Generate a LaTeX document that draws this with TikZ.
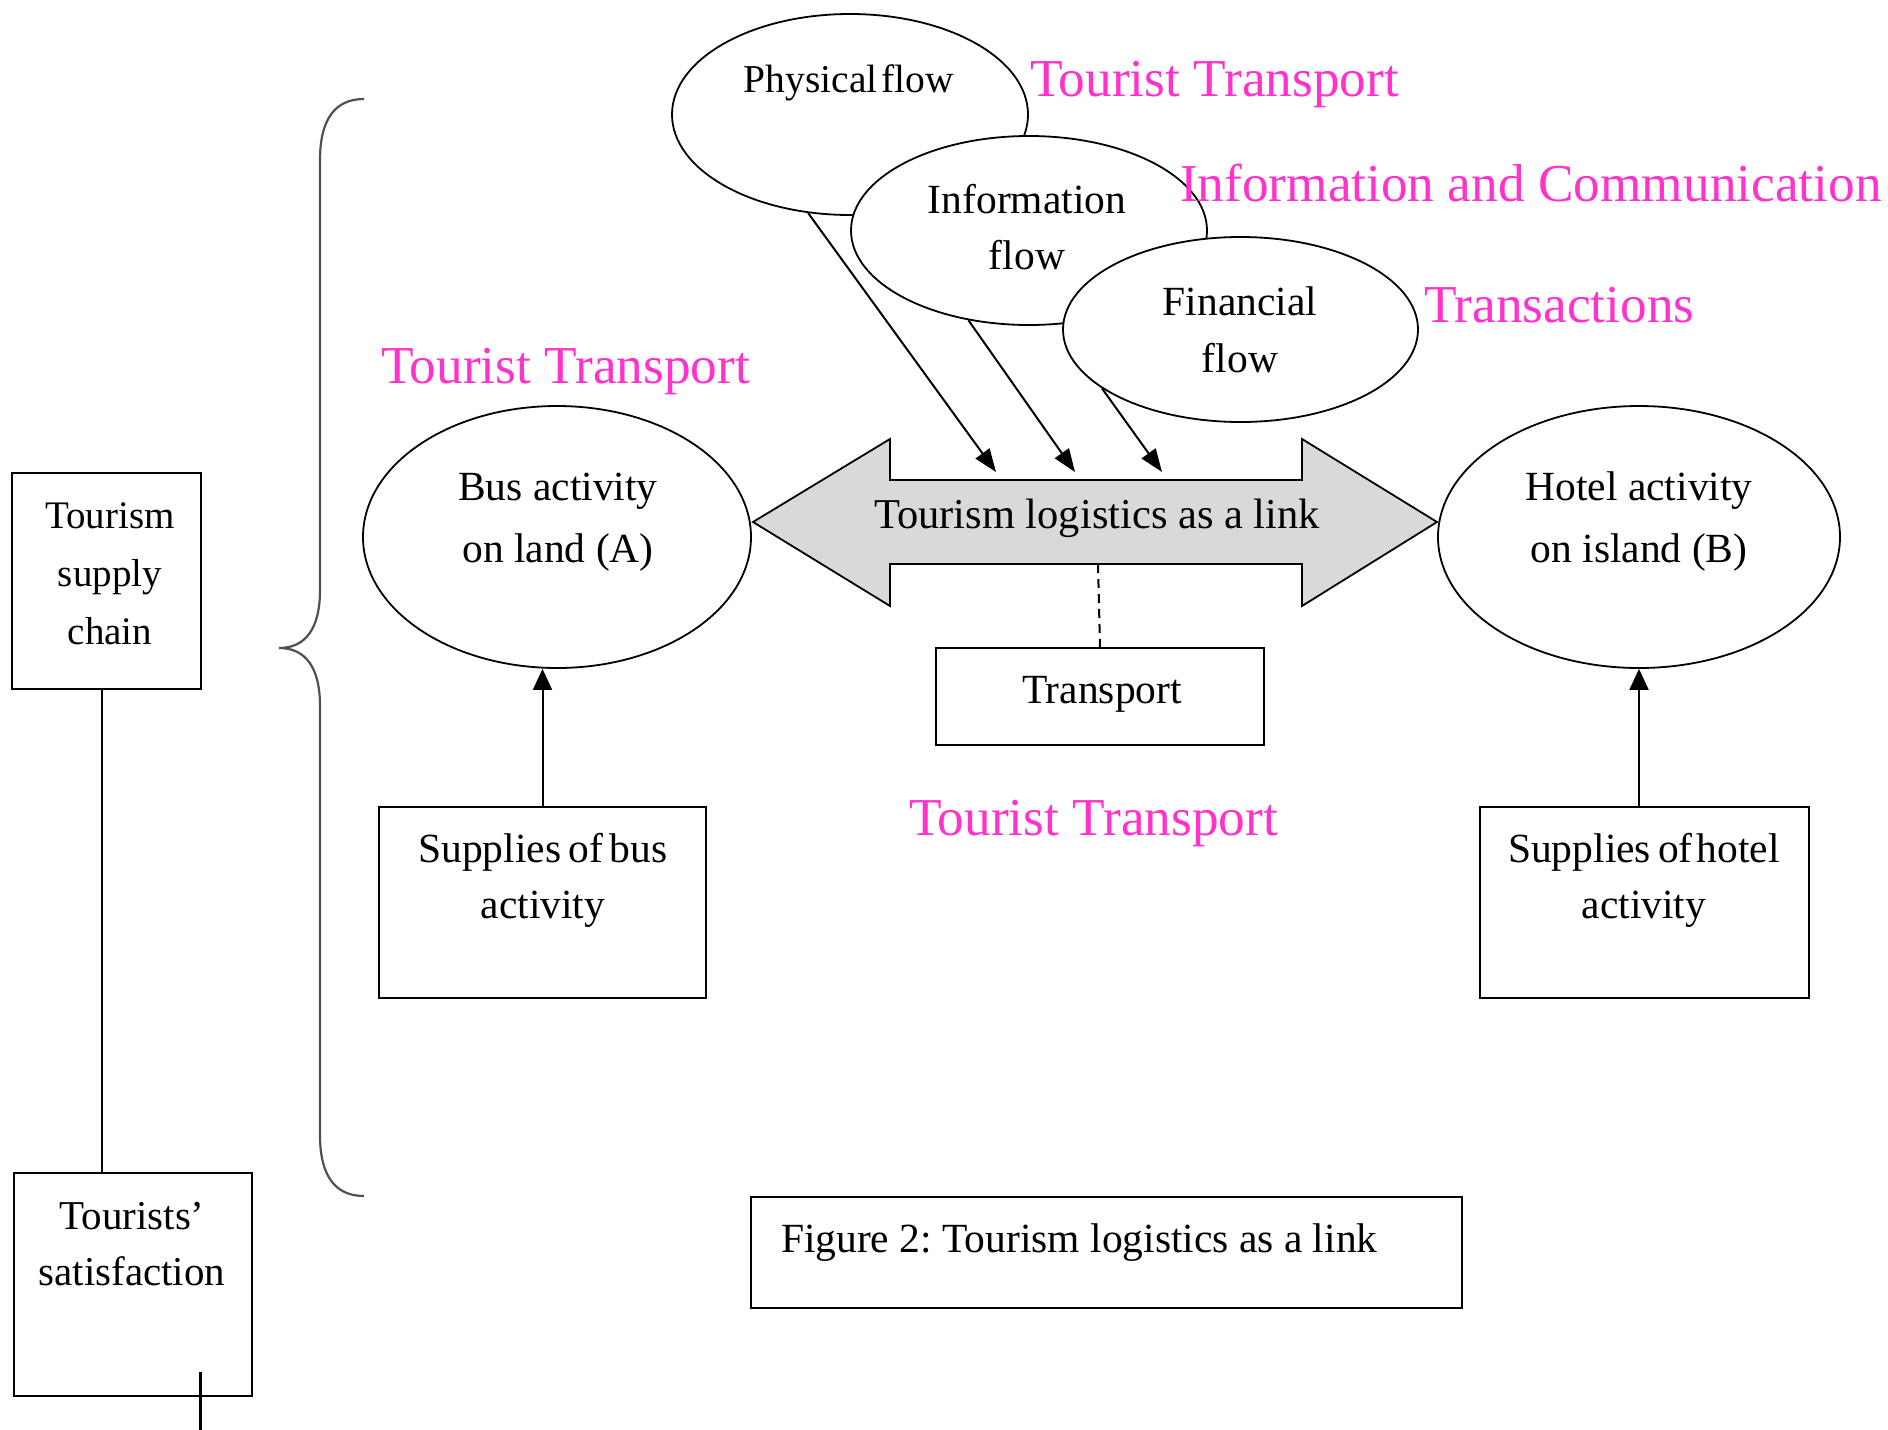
\documentclass[tikz,border=0pt]{standalone}
\usepackage{fontspec}
\setmainfont{Liberation Serif}
\usetikzlibrary{shapes.geometric,arrows.meta}
\definecolor{pinkc}{RGB}{255,51,204}
\definecolor{arrowgray}{RGB}{217,217,217}
\definecolor{bracegray}{RGB}{80,80,80}
\frenchspacing
\begin{document}
\begin{tikzpicture}[x=1pt,y=-1pt,
  line width=2pt,
  ell/.style={ellipse, draw, fill=white, inner sep=0pt, line width=1.8pt},
  box/.style={draw, rectangle, inner sep=0pt, line width=2pt},
  txt/.style={align=center, font=\fontsize{41.5}{62}\selectfont, anchor=base, inner sep=0pt},
  pinktxt/.style={text=pinkc, font=\fontsize{53.3}{60}\selectfont, anchor=base west, inner sep=0pt},
  arr/.style={-{Triangle[length=23pt,width=17pt]}, line width=2pt},
]
\useasboundingbox (0,0) rectangle (1888,1430);
\fill[white] (0,0) rectangle (1888,1430);

% left boxes (base anchor of multi-line text = last line baseline)
\node[box, minimum width=189, minimum height=216] (tsc) at (106.5,581) {};
\node[txt, font=\fontsize{39}{58}\selectfont] (tsctxt) at (110,644) {Tourism\\supply\\chain};
\node[box, minimum width=238, minimum height=223] (sat) at (133,1284.5) {};
\node[txt, font=\fontsize{41}{56}\selectfont] (sattxt) at (132,1285) {Tourists’\\satisfaction};
\path (tsc.south) ++(-5,0) coordinate (tscb);
\draw (tscb) -- (tscb |- sat.north);
\coordinate (tickbot) at (200,1430);
\coordinate (ticktop) at (200,1372);
\draw[line width=3pt] (tickbot) -- (ticktop);

% brace
\draw[bracegray, line width=2.2pt] (364,99) .. controls (336,99) and (320,118) .. (320,160)
  -- (320,590) .. controls (320,628) and (306,648) .. (279,648)
  .. controls (306,648) and (320,668) .. (320,706)
  -- (320,1135) .. controls (320,1177) and (336,1196) .. (364,1196);

% flow ellipses
\node[ell, minimum width=356, minimum height=201] (phys) at (850,114.5) {};
\node[txt, font=\fontsize{39.5}{62}\selectfont] (physt) at (849,92) {Physical\hspace{0.1em}flow};
\node[ell, minimum width=356, minimum height=189] (info) at (1029,230.5) {};
\node[txt, font=\fontsize{41.5}{56}\selectfont] (infot) at (1027,269) {Information\\flow};
\node[ell, minimum width=355, minimum height=185] (fin) at (1240.5,329.5) {};
\node[txt, font=\fontsize{41.5}{57}\selectfont] (fint) at (1240,372) {Financial\\flow};

% activity ellipses
\node[ell, minimum width=388, minimum height=262] (bus) at (557,537) {};
\node[txt] (bust) at (558,562) {Bus activity\\on land (A)};
\node[ell, minimum width=402, minimum height=262] (hotel) at (1639,537) {};
\node[txt] (hotelt) at (1639,562) {Hotel activity\\on island (B)};

% double arrow
\draw[fill=arrowgray, line width=1.8pt] (753,522) -- (890,439) -- (890,480) -- (1302,480)
  -- (1302,439) -- (1437,522) -- (1302,606) -- (1302,564) -- (890,564) -- (890,606) -- cycle;
\node[txt, font=\fontsize{42.5}{62}\selectfont] (link) at (1097,528) {Tourism logistics as a link};
\coordinate (linkbot) at (1098,564);
\coordinate (in1) at (996,472);
\coordinate (in2) at (1075,472);
\coordinate (in3) at (1162,472);
\draw[arr] (phys.-113.6) -- (in1);
\draw[arr] (info.-124.5) -- (in2);
\draw[arr] (fin.-157.5) -- (in3);

% transport
\node[box, minimum width=328, minimum height=97] (transport) at (1100,696.5) {};
\node[txt] (transportt) at (1102,703) {Transport};
\draw[dashed, dash pattern=on 9pt off 6pt] (linkbot) -- (transport.north);

% supplies
\node[box, minimum width=327, minimum height=191] (busbox) at (542.5,902.5) {};
\node[txt, font=\fontsize{41.5}{56}\selectfont] (busboxt) at (543,918) {Supplies\hspace{0.17em}of\hspace{0.17em}bus\\activity};
\node[box, minimum width=329, minimum height=191] (hotelbox) at (1644.5,902.5) {};
\node[txt, font=\fontsize{41.5}{56}\selectfont] (hotelboxt) at (1644,918) {Supplies\hspace{0.17em}of\hspace{0.1em}hotel\\activity};
\draw[arr, -{Triangle[length=21pt,width=19pt]}] (busbox.north) -- (busbox.north |- bus.south);
\draw[arr, -{Triangle[length=21pt,width=19pt]}] (hotelbox.north -| hotel.south) -- (hotel.south);

% figure caption
\node[box, minimum width=711, minimum height=111] (figbox) at (1106.5,1252.5) {};
\node[txt, anchor=base west] (figt) at (780,1252) {Figure 2: Tourism logistics as a link};

% pink labels
\node[pinktxt] (pk1) at (1029,96) {Tourist Transport};
\node[pinktxt] (pk2) at (1179,201) {Information and Communication};
\node[pinktxt] (pk3) at (1423,322) {Transactions};
\node[pinktxt] (pk4) at (380,383) {Tourist Transport};
\node[pinktxt] (pk5) at (908,835) {Tourist Transport};
\end{tikzpicture}
\end{document}
